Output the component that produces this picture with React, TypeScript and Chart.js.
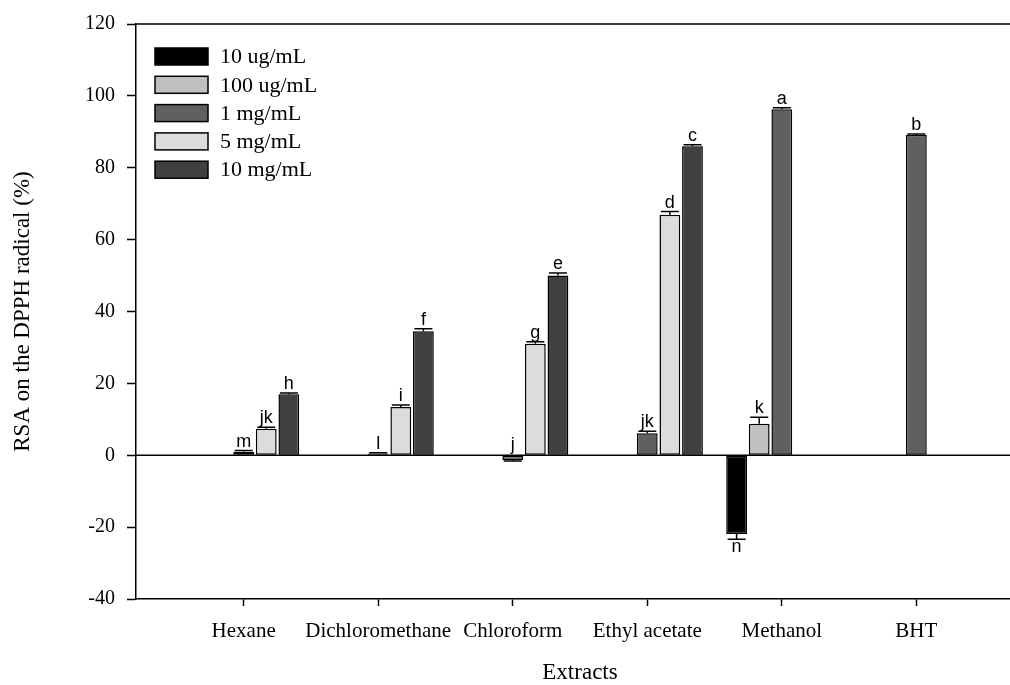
import React, { useEffect, useRef } from 'react';
import { Chart, registerables } from 'chart.js';

Chart.register(...registerables);

const categories = ['Hexane', 'Dichloromethane', 'Chloroform', 'Ethyl acetate', 'Methanol', 'BHT'];
const seriesNames = ['10 ug/mL', '100 ug/mL', '1 mg/mL', '5 mg/mL', '10 mg/mL'];
const seriesColors = ['#000000', '#c0c0c0', '#606060', '#dcdcdc', '#404040'];

const s10ug = [null, null, null, null, -21.9, null];
const s100ug = [null, null, null, null, 8.8, null];
const s1mg = [1.0, 0.5, -1.3, 6.1, 96.3, 89.1];
const s5mg = [7.4, 13.4, 31.0, 66.9, null, null];
const s10mg = [17.0, 34.5, 50.0, 86.0, null, null];

const e10ug = [0, 0, 0, 0, 1.5, 0];
const e100ug = [0, 0, 0, 0, 1.8, 0];
const e1mg = [0.3, 0.2, 0.3, 0.6, 0.4, 0.3];
const e5mg = [0.4, 0.6, 0.6, 0.9, 0, 0];
const e10mg = [0.3, 0.7, 0.7, 0.4, 0, 0];

const l10ug = ['', '', '', '', 'n', ''];
const l100ug = ['', '', '', '', 'k', ''];
const l1mg = ['m', 'l', 'j', 'jk', 'a', 'b'];
const l5mg = ['jk', 'i', 'g', 'd', '', ''];
const l10mg = ['h', 'f', 'e', 'c', '', ''];

const yTicks = [-40, -20, 0, 20, 40, 60, 80, 100, 120];

const seriesValues = [s10ug, s100ug, s1mg, s5mg, s10mg];
const seriesErrors = [e10ug, e100ug, e1mg, e5mg, e10mg];
const seriesLetters = [l10ug, l100ug, l1mg, l5mg, l10mg];

const SERIF = "'Liberation Serif', 'Times New Roman', serif";
const SANS = "'Liberation Sans', Arial, sans-serif";

const decorPlugin = {
  id: 'decor',
  beforeDatasetsDraw(chart: any) {
    const { ctx, chartArea, scales } = chart;
    const y0 = scales.y.getPixelForValue(0);
    ctx.save();
    ctx.strokeStyle = '#000';
    ctx.lineWidth = 1.5;
    ctx.beginPath();
    ctx.moveTo(chartArea.left, y0);
    ctx.lineTo(chartArea.right, y0);
    ctx.moveTo(chartArea.left, chartArea.top);
    ctx.lineTo(chartArea.right, chartArea.top);
    ctx.stroke();
    ctx.restore();
  },
  afterDatasetsDraw(chart: any) {
    const { ctx, scales } = chart;
    const y0 = scales.y.getPixelForValue(0);
    ctx.save();
    ctx.strokeStyle = '#000';
    ctx.fillStyle = '#000';
    ctx.lineWidth = 1.5;
    ctx.font = `18px ${SANS}`;
    ctx.textAlign = 'center';
    seriesValues.forEach((vals, i) => {
      const meta = chart.getDatasetMeta(i);
      meta.data.forEach((bar: any, j: number) => {
        const v = vals[j];
        if (v === null || v === undefined) return;
        const err = seriesErrors[i][j] || 0;
        const sign = v >= 0 ? 1 : -1;
        const yEnd = scales.y.getPixelForValue(v + sign * err);
        const yBar = scales.y.getPixelForValue(v);
        if (err > 0) {
          ctx.beginPath();
          ctx.moveTo(bar.x, yBar);
          ctx.lineTo(bar.x, yEnd);
          ctx.moveTo(bar.x - 9, yEnd);
          ctx.lineTo(bar.x + 9, yEnd);
          ctx.stroke();
        }
        const letter = seriesLetters[i][j];
        if (letter) {
          ctx.textBaseline = 'alphabetic';
          if (sign > 0) {
            ctx.fillText(letter, bar.x, Math.min(yEnd, yBar) - 4);
          } else if (Math.abs(v) < 5) {
            ctx.fillText(letter, bar.x, y0 - 5);
          } else {
            ctx.textBaseline = 'top';
            ctx.fillText(letter, bar.x, Math.max(yEnd, yBar) - 1);
          }
        }
      });
    });
    ctx.restore();
  },
  afterDraw(chart: any) {
    const { ctx } = chart;
    ctx.save();
    ctx.lineWidth = 1.5;
    ctx.strokeStyle = '#000';
    ctx.font = `22px ${SERIF}`;
    ctx.textBaseline = 'middle';
    ctx.textAlign = 'left';
    seriesNames.forEach((name, i) => {
      const cy = 56.5 + i * 28.3;
      ctx.fillStyle = seriesColors[i];
      ctx.fillRect(155, cy - 8.5, 53, 17);
      ctx.strokeRect(155, cy - 8.5, 53, 17);
      ctx.fillStyle = '#000';
      ctx.fillText(name, 220, cy + 1);
    });
    ctx.restore();
  },
};

export default function App() {
  const ref = useRef<HTMLCanvasElement>(null);
  useEffect(() => {
    if (!ref.current) return;
    const datasets = seriesNames.map((name, i) => ({
      label: name,
      data: seriesValues[i].map((v, j) => ({ x: j, y: v })),
      backgroundColor: seriesColors[i],
      borderColor: '#000',
      borderWidth: 1.5,
      borderSkipped: false,
      categoryPercentage: 0.84,
      barPercentage: 0.92,
    }));
    const chart = new Chart(ref.current, {
      type: 'bar',
      data: { datasets } as any,
      plugins: [decorPlugin],
      options: {
        responsive: false,
        animation: false,
        layout: { padding: { top: 23, left: 0, right: 0, bottom: 0 } },
        plugins: { legend: { display: false }, tooltip: { enabled: false } },
        scales: {
          x: {
            type: 'linear',
            min: -0.8,
            max: 5.8,
            offset: false,
            afterBuildTicks: (scale: any) => {
              scale.ticks = categories.map((_, i) => ({ value: i }));
            },
            afterFit: (scale: any) => {
              scale.height = 86;
            },
            ticks: {
              autoSkip: false,
              maxRotation: 0,
              padding: 13,
              color: '#000',
              font: { family: SERIF, size: 21 },
              callback: (v: any) => categories[v] ?? '',
            },
            grid: { display: true, offset: false, drawOnChartArea: false, drawTicks: true, tickLength: 7, tickColor: '#000', tickWidth: 1.5 },
            border: { display: true, color: '#000', width: 1.5 },
            title: {
              display: true,
              text: 'Extracts',
              color: '#000',
              font: { family: SERIF, size: 23 },
              padding: { top: 0, bottom: -2 },
            },
          },
          y: {
            min: -40,
            max: 120,
            afterBuildTicks: (scale: any) => {
              scale.ticks = yTicks.map((v) => ({ value: v }));
            },
            afterFit: (scale: any) => {
              scale.width = 136;
            },
            ticks: {
              padding: 12,
              color: '#000',
              font: { family: SERIF, size: 20 },
            },
            grid: { display: true, drawOnChartArea: false, drawTicks: true, tickLength: 9, tickColor: '#000', tickWidth: 1.5 },
            border: { display: true, color: '#000', width: 1.5 },
            title: {
              display: true,
              text: 'RSA on the DPPH radical (%)',
              color: '#000',
              font: { family: SERIF, size: 23 },
              padding: { top: 9, bottom: 0 },
            },
          },
        },
      } as any,
    });
    return () => chart.destroy();
  }, []);
  return (
    <div style={{ position: 'fixed', left: 0, top: 0, width: 1010, height: 685, overflow: 'hidden', background: '#fff' }}>
      <canvas ref={ref} width={1024} height={685} style={{ display: 'block' }} />
    </div>
  );
}
